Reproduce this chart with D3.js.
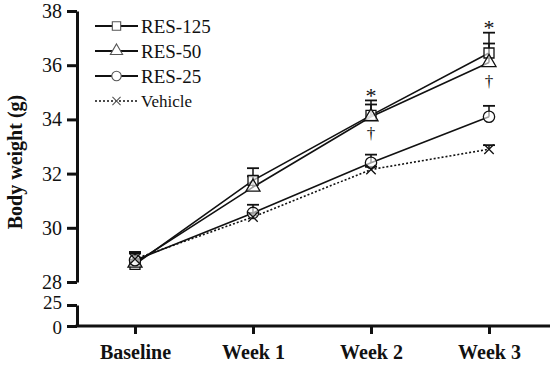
<!DOCTYPE html>
<html>
<head>
<meta charset="utf-8">
<script src="https://cdn.jsdelivr.net/npm/d3@7"></script>
<style>
  body { margin: 0; background: #fff; }
  svg { display: block; }
  text { font-family: "Liberation Serif", "Times New Roman", serif; fill: #111; }
</style>
</head>
<body>
<svg id="chart" width="550" height="367"></svg>
<script>
// data
const weeks = ["Baseline", "Week 1", "Week 2", "Week 3"];
const groups = ["RES-125", "RES-50", "RES-25", "Vehicle"];
const res125 = [28.65, 31.75, 34.15, 36.45];
const res50 = [28.7, 31.5, 34.1, 36.1];
const res25 = [28.8, 30.55, 32.4, 34.1];
const vehicle = [28.85, 30.4, 32.15, 32.9];
const err125 = [0.45, 0.45, 0.55, 0.75];
const err50 = [0.35, 0.4, 0.45, 0.7];
const err25 = [0.3, 0.3, 0.3, 0.4];
const errVeh = [0.25, 0.15, 0.1, 0.15];
const upperTicks = [28, 30, 32, 34, 36, 38];
const lowerTicks = [0, 25];
// significance marks: [week index, value where the mark sits, symbol]
const marks = [[2, 35.1, "*"], [2, 33.45, "\u2020"], [3, 37.6, "*"], [3, 35.4, "\u2020"]];

const series = [
  {name: groups[0], values: res125, err: err125, symbol: "square", dash: null},
  {name: groups[1], values: res50, err: err50, symbol: "triangle", dash: null},
  {name: groups[2], values: res25, err: err25, symbol: "circle", dash: null},
  {name: groups[3], values: vehicle, err: errVeh, symbol: "x", dash: "2,2"}
];

const svg = d3.select("#chart");
const axisX = 77, axisY = 326;

const x = d3.scalePoint().domain(weeks).range([135, 489]);
const y = d3.scaleLinear().domain([28, 38]).range([282, 11]);
const yLow = d3.scaleLinear().domain([0, 25]).range([326, 305]);

function styleAxis(g) {
  g.selectAll(".domain").attr("stroke", "#111").attr("stroke-width", 3);
  g.selectAll(".tick line").attr("stroke", "#111").attr("stroke-width", 3);
  g.selectAll(".tick text").style("font-size", "20px").attr("fill", "#222");
}

// upper y axis
svg.append("g")
  .attr("transform", `translate(${axisX},0)`)
  .call(d3.axisLeft(y).tickValues(upperTicks).tickSize(10).tickSizeOuter(0).tickPadding(5))
  .call(styleAxis);

// lower y axis (after the break)
svg.append("g")
  .attr("transform", `translate(${axisX},0)`)
  .call(d3.axisLeft(yLow).tickValues(lowerTicks).tickSize(10).tickSizeOuter(0).tickPadding(5))
  .call(styleAxis)
  .call(g => g.selectAll(".tick text")
    .style("font-size", "19px")
    .attr("dy", d => d === 0 ? "0.4em" : "0.2em"));

// x axis
const gx = svg.append("g")
  .attr("transform", `translate(0,${axisY})`)
  .call(d3.axisBottom(x).tickSize(8).tickSizeOuter(0).tickPadding(11))
  .call(styleAxis);
gx.select(".domain").remove();
gx.append("line").attr("x1", axisX - 1.5).attr("x2", 550).attr("stroke", "#111").attr("stroke-width", 3);
gx.selectAll(".tick text").style("font-size", "20px").style("font-weight", "bold").attr("fill", "#111");

// y title
svg.append("text")
  .attr("transform", "translate(22,162) rotate(-90)")
  .attr("text-anchor", "middle")
  .style("font-size", "20px")
  .style("font-weight", "bold")
  .text("Body weight (g)");

const symbols = {
  square: d3.symbol(d3.symbolSquare, 100),
  triangle: d3.symbol(d3.symbolTriangle, 85),
  circle: d3.symbol(d3.symbolCircle, 100),
  x: d3.symbol(d3.symbolTimes, 60)
};
const legendSymbols = {
  square: d3.symbol(d3.symbolSquare, 70),
  triangle: d3.symbol(d3.symbolTriangle, 65),
  circle: d3.symbol(d3.symbolCircle, 70),
  x: d3.symbol(d3.symbolTimes, 45)
};

const line = d3.line().x((d, i) => x(weeks[i])).y(d => y(d));

// lines first
series.forEach(s => {
  svg.append("path")
    .datum(s.values)
    .attr("d", line)
    .attr("fill", "none")
    .attr("stroke", "#111")
    .attr("stroke-width", 1.6)
    .attr("stroke-dasharray", s.dash);
});

// error bars (upper only)
series.forEach(s => {
  const g = svg.append("g");
  s.values.forEach((v, i) => {
    const cx = x(weeks[i]);
    g.append("line").attr("x1", cx).attr("x2", cx)
      .attr("y1", y(v)).attr("y2", y(v + s.err[i]))
      .attr("stroke", "#111").attr("stroke-width", 1.5);
    g.append("line").attr("x1", cx - 6).attr("x2", cx + 6)
      .attr("y1", y(v + s.err[i])).attr("y2", y(v + s.err[i]))
      .attr("stroke", "#111").attr("stroke-width", 1.8);
  });
});

// markers
series.forEach(s => {
  svg.append("g").selectAll("path")
    .data(s.values)
    .join("path")
    .attr("transform", (d, i) => `translate(${x(weeks[i])},${y(d)})`)
    .attr("d", symbols[s.symbol])
    .attr("fill", s.symbol === "x" ? "#111" : "#fff")
    .attr("fill-opacity", s.symbol === "x" ? 1 : 0.6)
    .attr("stroke", "#111")
    .attr("stroke-width", 1.3);
});

// significance marks
svg.append("g").selectAll("text")
  .data(marks)
  .join("text")
  .attr("x", d => x(weeks[d[0]]))
  .attr("y", d => y(d[1]))
  .attr("text-anchor", "middle")
  .attr("dy", d => d[2] === "*" ? "0.6em" : "0.3em")
  .style("font-size", d => d[2] === "*" ? "22px" : "17px")
  .style("fill", "#111")
  .text(d => d[2]);

// legend
const legend = svg.append("g").attr("transform", "translate(95,26)");
series.forEach((s, i) => {
  const row = legend.append("g").attr("transform", `translate(0,${i * 25})`);
  row.append("line").attr("x1", 0).attr("x2", 43)
    .attr("stroke", "#111").attr("stroke-width", s.dash ? 1.4 : 2)
    .attr("stroke-dasharray", s.dash);
  row.append("path").attr("transform", "translate(21.5,0)")
    .attr("d", legendSymbols[s.symbol])
    .attr("fill", "#fff")
    .attr("stroke", "#555").attr("stroke-width", 1.1);
  row.append("text").attr("x", 46).attr("dy", "0.35em")
    .style("font-size", s.dash ? "17px" : "19px")
    .text(s.name);
});
</script>
</body>
</html>
